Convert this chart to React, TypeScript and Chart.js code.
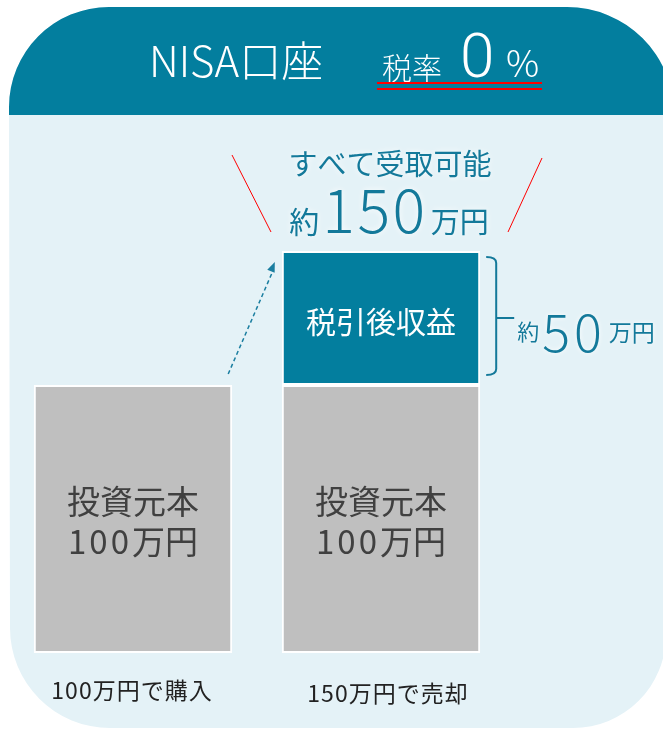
import React, { useEffect, useRef } from 'react';
import { Chart, registerables } from 'chart.js';

Chart.register(...registerables);

const categories = ['100万円で購入', '150万円で売却'];
const principalValues = [100, 100];
const gainValues = [0, 50];
const principalText = ['投資元本', '100', '万円'];
const gainText = '税引後収益';
const totalHeadline = 'すべて受取可能';
const totalAmount = ['約', '150', '万円'];
const gainAmount = ['約', '50', '万円'];
const titleText = 'NISA口座';
const taxText = ['税率', '0', '%'];

const TEAL = '#037e9e';
const TEXT_TEAL = '#13799a';
const LIGHT = '#e4f2f7';
const GRAY = '#bfbfbf';
const FONT = '"Noto Sans CJK JP", "Noto Sans", sans-serif';

// [text, size, letterSpacing, weight]
type Part = [string, number, number?, string?];

function drawRun(ctx: CanvasRenderingContext2D, parts: Part[], x: number, y: number, color: string, align: 'left' | 'center', gap = 0) {
  const setFont = (p: Part) => {
    ctx.font = `${p[3] || 'normal'} ${p[1]}px ${FONT}`;
    (ctx as any).letterSpacing = `${p[2] || 0}px`;
  };
  const widths = parts.map((p) => {
    setFont(p);
    return ctx.measureText(p[0]).width;
  });
  const total = widths.reduce((a, b) => a + b, 0) + gap * (parts.length - 1);
  let cx = align === 'center' ? x - total / 2 : x;
  ctx.textAlign = 'left';
  ctx.fillStyle = color;
  parts.forEach((p, i) => {
    setFont(p);
    ctx.fillText(p[0], cx, y);
    cx += widths[i] + gap;
  });
  (ctx as any).letterSpacing = '0px';
}

const decor = {
  id: 'decor',
  beforeDraw(chart: any) {
    const ctx: CanvasRenderingContext2D = chart.ctx;
    ctx.save();
    ctx.beginPath();
    ctx.moveTo(109, 7);
    ctx.lineTo(567, 7);
    ctx.arc(567, 114, 107, -Math.PI / 2, 0);
    ctx.lineTo(666, 635);
    ctx.arc(573, 635, 93, 0, Math.PI / 2);
    ctx.lineTo(110, 728);
    ctx.arc(110, 628, 100, Math.PI / 2, Math.PI);
    ctx.lineTo(9, 107);
    ctx.arc(109, 107, 100, Math.PI, 1.5 * Math.PI);
    ctx.closePath();
    ctx.fillStyle = LIGHT;
    ctx.fill();
    ctx.clip();
    ctx.fillStyle = TEAL;
    ctx.fillRect(0, 0, 700, 115);
    ctx.restore();

    // header text
    ctx.save();
    ctx.fillStyle = '#ffffff';
    ctx.textAlign = 'left';
    ctx.textBaseline = 'alphabetic';
    ctx.font = `300 42px ${FONT}`;
    ctx.fillText(titleText, 149, 77);
    ctx.font = `300 30px ${FONT}`;
    ctx.fillText(taxText[0], 382, 79);
    ctx.font = `300 62px Roboto, ${FONT}`;
    ctx.fillText(taxText[1], 460, 77);
    ctx.font = `300 37px ${FONT}`;
    ctx.fillText(taxText[2], 506, 77);
    ctx.fillStyle = '#ff0000';
    ctx.fillRect(377, 82, 165, 2);
    ctx.fillRect(377, 88, 165, 2);
    ctx.restore();
  },
  afterDatasetsDraw(chart: any) {
    const ctx: CanvasRenderingContext2D = chart.ctx;
    const pMeta = chart.getDatasetMeta(0);
    const gMeta = chart.getDatasetMeta(1);
    ctx.save();

    // principal labels inside gray bars
    pMeta.data.forEach((bar: any) => {
      const mid = (bar.y + bar.base) / 2;
      ctx.fillStyle = '#404040';
      ctx.textAlign = 'center';
      ctx.textBaseline = 'middle';
      ctx.font = `33px ${FONT}`;
      ctx.fillText(principalText[0], bar.x, mid - 18);
      ctx.textBaseline = 'alphabetic';
      drawRun(ctx, [[principalText[1], 33, 3], [principalText[2], 33, 0]], bar.x, mid + 35, '#404040', 'center', 0);
    });

    // category labels below
    pMeta.data.forEach((bar: any, i: number) => {
      ctx.textBaseline = 'middle';
      drawRun(ctx, [[categories[i], 23, 1]], bar.x + (i === 0 ? -1 : 7), bar.base + 37 + i * 3, '#222222', 'center');
    });

    // gain bar
    const gi = gainValues.findIndex((v) => v > 0);
    const gb: any = gMeta.data[gi];
    const top = gb.y;
    const base = gb.base;
    const right = gb.x + gb.width / 2;
    ctx.fillStyle = '#ffffff';
    ctx.textAlign = 'center';
    ctx.textBaseline = 'middle';
    ctx.font = `30px ${FONT}`;
    ctx.fillText(gainText, gb.x, (top + base) / 2 + 4);

    // headline above with white glow
    ctx.save();
    ctx.shadowColor = 'rgba(255,255,255,0.95)';
    ctx.shadowBlur = 6;
    ctx.fillStyle = TEXT_TEAL;
    ctx.font = `29px ${FONT}`;
    ctx.textAlign = 'center';
    ctx.textBaseline = 'alphabetic';
    ctx.fillText(totalHeadline, gb.x + 9, top - 76);
    drawRun(ctx, [[totalAmount[0], 30], [totalAmount[1], 61, 2.5, '300'], [totalAmount[2], 29]], gb.x + 8, top - 18, TEXT_TEAL, 'center', 3);
    ctx.restore();

    // brace
    const bx = right + 16;
    const bt = top + 6;
    const bb = base - 10;
    const bm = (bt + bb) / 2 + 2;
    ctx.strokeStyle = TEXT_TEAL;
    ctx.lineWidth = 2;
    ctx.beginPath();
    ctx.moveTo(bx - 10, bt);
    ctx.quadraticCurveTo(bx, bt, bx, bt + 6);
    ctx.lineTo(bx, bb - 6);
    ctx.quadraticCurveTo(bx, bb, bx - 10, bb);
    ctx.stroke();
    ctx.beginPath();
    ctx.moveTo(bx, bm);
    ctx.lineTo(bx + 18, bm);
    ctx.stroke();

    ctx.save();
    ctx.shadowColor = 'rgba(255,255,255,0.95)';
    ctx.shadowBlur = 5;
    drawRun(ctx, [[gainAmount[0], 22], [gainAmount[1], 52, 4, '300'], [gainAmount[2], 23]], bx + 21, bm + 14, TEXT_TEAL, 'left', 3);
    ctx.restore();

    // red emphasis lines
    ctx.strokeStyle = '#ff0000';
    ctx.lineWidth = 1;
    ctx.beginPath();
    ctx.moveTo(232, 155);
    ctx.lineTo(271, 232);
    ctx.moveTo(542, 158);
    ctx.lineTo(508, 232);
    ctx.stroke();

    // dashed arrow from first bar top to second bar total
    const p0: any = pMeta.data[0];
    const sx = p0.x + p0.width / 2 - 4;
    const sy = p0.y - 11;
    const ex = gb.x - gb.width / 2 - 7;
    const ey = top + 11;
    ctx.strokeStyle = '#1a7ea0';
    ctx.lineWidth = 1.5;
    ctx.setLineDash([4, 3]);
    ctx.beginPath();
    ctx.moveTo(sx, sy);
    ctx.lineTo(ex - 1.5, ey + 8);
    ctx.stroke();
    ctx.setLineDash([]);
    const ang = Math.atan2(ey - sy, ex - sx);
    ctx.fillStyle = '#1a7ea0';
    ctx.beginPath();
    ctx.moveTo(ex, ey);
    ctx.lineTo(ex - 10 * Math.cos(ang) + 4 * Math.sin(ang), ey - 10 * Math.sin(ang) - 4 * Math.cos(ang));
    ctx.lineTo(ex - 10 * Math.cos(ang) - 4 * Math.sin(ang), ey - 10 * Math.sin(ang) + 4 * Math.cos(ang));
    ctx.closePath();
    ctx.fill();

    ctx.restore();
  },
};

export default function App() {
  const ref = useRef<HTMLCanvasElement>(null);
  useEffect(() => {
    if (!ref.current) return;
    const chart = new Chart(ref.current, {
      type: 'bar',
      data: {
        labels: categories,
        datasets: [
          {
            label: '投資元本',
            data: principalValues,
            backgroundColor: GRAY,
            borderColor: '#ffffff',
            borderWidth: 2,
            borderSkipped: false,
          },
          {
            label: '税引後収益',
            data: gainValues,
            backgroundColor: TEAL,
            borderColor: '#ffffff',
            borderWidth: 2,
            borderSkipped: false,
          },
        ],
      },
      options: {
        responsive: false,
        devicePixelRatio: 1,
        animation: false,
        events: [],
        layout: { padding: { left: 9, right: 158, top: 117, bottom: 76 } },
        datasets: { bar: { categoryPercentage: 1, barPercentage: 0.8 } },
        plugins: { legend: { display: false }, tooltip: { enabled: false } },
        scales: {
          x: { stacked: true, display: false },
          y: { stacked: true, display: false, min: 0, max: 200 },
        },
      },
      plugins: [decor],
    });
    return () => chart.destroy();
  }, []);
  return (
    <div style={{ position: 'fixed', left: 0, top: 0, width: 663, height: 729, background: '#ffffff' }}>
      <canvas ref={ref} width={663} height={729} style={{ display: 'block', width: 663, height: 729 }} />
    </div>
  );
}
